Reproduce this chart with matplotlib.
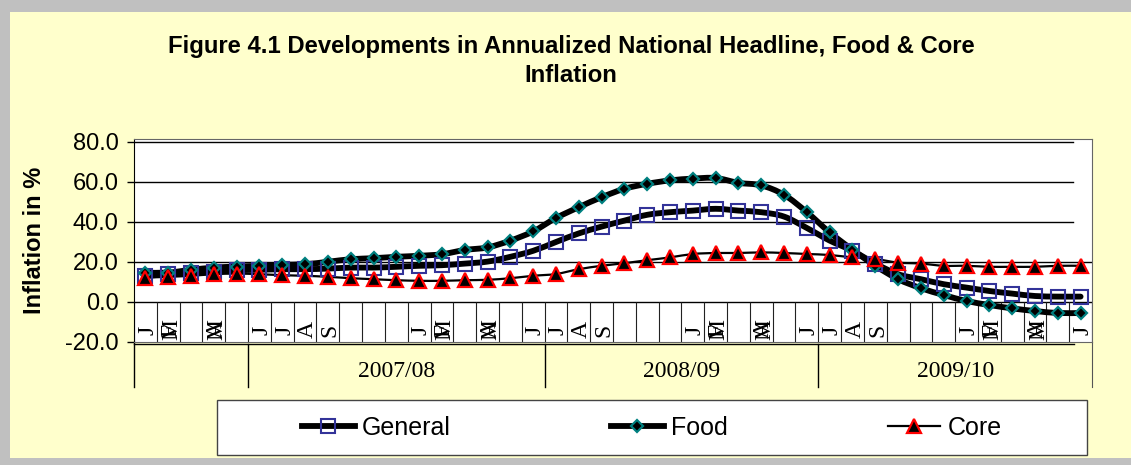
import matplotlib.pyplot as plt
import numpy as np
from matplotlib.path import Path
from matplotlib.patches import PathPatch, Rectangle
from matplotlib.lines import Line2D

# monthly categories, Jan 2007 - Jun 2010
months = ['J', 'F', 'M', 'A', 'M',
          'J', 'J', 'A', 'S', '', '', '', 'J', 'F', 'M', 'A', 'M', 'J',
          'J', 'A', 'S', '', '', '', 'J', 'F', 'M', 'A', 'M', 'J',
          'J', 'A', 'S', '', '', '', 'J', 'F', 'M', 'A', 'M', 'J']
years = ['2007/08', '2008/09', '2009/10']
year_bounds = [5, 18, 30, 42]

general = [13.1, 13.9, 14.7, 15.2, 15.9, 16.1, 16.4, 16.4, 16.7, 17.2,
           17.2, 17.6, 18.1, 18.4, 19.2, 20.2, 22.6, 25.6, 30.0, 34.3,
           37.7, 40.7, 43.6, 44.9, 45.7, 46.6, 45.7, 44.9, 42.7, 37.0,
           30.7, 25.6, 19.2, 13.9, 11.4, 8.9, 7.2, 5.5, 4.2, 3.0, 2.7, 2.7]
food = [14.7, 14.7, 16.1, 17.2, 17.7, 18.1, 18.6, 18.9, 20.1, 21.4,
        21.9, 22.6, 23.1, 23.9, 26.0, 27.3, 30.7, 35.3, 42.0, 47.4,
        52.4, 56.6, 59.1, 60.8, 61.7, 62.0, 59.6, 58.3, 53.6, 44.9,
        34.8, 26.1, 18.1, 11.4, 6.9, 3.5, 0.5, -1.5, -3.2, -4.5, -5.5, -5.5]
core = [12.2, 12.6, 13.1, 13.9, 14.2, 13.9, 13.4, 13.1, 12.6, 11.9,
        11.4, 10.9, 10.6, 10.6, 10.9, 11.1, 11.9, 13.1, 14.0, 16.4,
        18.1, 19.4, 20.9, 22.3, 24.0, 24.5, 24.5, 24.8, 24.5, 24.0,
        23.5, 22.3, 21.5, 19.7, 19.2, 18.1, 18.1, 17.6, 17.6, 17.6, 18.1, 18.1]

BG = '#FFFFCC'
W, H = 1131, 465


def smooth_path(x, y):
    # excel style smoothed line: cubic bezier through every point
    p = np.column_stack([x, y])
    n = len(p)
    verts = [p[0]]
    codes = [Path.MOVETO]
    for i in range(n - 1):
        p0 = p[i - 1] if i > 0 else p[i]
        p3 = p[i + 2] if i + 2 < n else p[i + 1]
        c1 = p[i] + (p[i + 1] - p0) / 6.0
        c2 = p[i + 1] - (p3 - p[i]) / 6.0
        verts += [c1, c2, p[i + 1]]
        codes += [Path.CURVE4] * 3
    return Path(verts, codes)


fig = plt.figure(figsize=(W / 100, H / 100), dpi=100, facecolor='#C0C0C0')
fig.patches.append(Rectangle((10 / W, 7 / H), 1, 1 - 19 / H, transform=fig.transFigure,
                             facecolor=BG, edgecolor='none', zorder=-5))

ax = fig.add_axes([134 / W, 1 - 342 / H, (1092 - 134) / W, (342 - 139) / H])
ax.set_zorder(2)
ax.set_facecolor('white')
ax.set_xlim(0, 42)
ax.set_ylim(-20, 81.5)

x = np.arange(len(months)) + 0.5

# gridlines
for g in [80, 60, 40]:
    ax.axhline(g, xmax=0.98, color='black', lw=1.0, zorder=1)
for g in [20, 0]:
    ax.axhline(g, color='black', lw=1.0, zorder=1)

# category separators in the month band
ax.vlines(np.arange(0, 43), -20, 0, color='#222222', lw=0.8, zorder=1)

# series
series = [
    (general, 4.2, dict(marker='s', ms=10.5, mfc='none', mec='#333399', mew=1.5)),
    (food, 4.2, dict(marker='D', ms=6.5, mfc='black', mec='#008080', mew=1.6)),
    (core, 1.6, dict(marker='^', ms=9.5, mfc='black', mec='#FF0000', mew=1.6)),
]
handles = []
for vals, lw, mk in series:
    ax.add_patch(PathPatch(smooth_path(x, vals), fill=False, lw=lw, edgecolor='black',
                           capstyle='round', joinstyle='round', zorder=3))
    ax.plot(x, vals, linestyle='none', zorder=4, **mk)
    handles.append(Line2D([], [], color='black', lw=lw, **mk))

# month labels (rotated, the M labels sit on top of the previous slot)
for i, m in enumerate(months):
    if not m:
        continue
    xi = x[i] - 0.85 if m == 'M' else x[i] + 0.1
    ax.text(xi, -14, m, rotation=90, ha='center', va='center',
            family='Liberation Serif', fontsize=17, zorder=5)

# fiscal year band below the plot
ax.plot([0, 41.2], [-21.1, -21.1], color='black', lw=1.0, clip_on=False)
for b in year_bounds[:-1]:
    ax.plot([b, b], [-21.1, -42.5], color='black', lw=1.0, clip_on=False)
ax.plot([0, 0], [-20, -42.5], color='black', lw=1.0, clip_on=False)
ax.plot([42, 42], [-20, -42.5], color='#555555', lw=0.8, clip_on=False)
for k, yr in enumerate(years):
    ax.text((year_bounds[k] + year_bounds[k + 1]) / 2, -34.5, yr, ha='center', va='center',
            family='Liberation Serif', fontsize=17, clip_on=False)

# axes styling
ax.set_xticks([])
ax.set_yticks([-20, 0, 20, 40, 60, 80])
ax.set_yticklabels(['%.1f' % v for v in [-20, 0, 20, 40, 60, 80]],
                   family='Liberation Sans', fontsize=17)
ax.tick_params(axis='y', direction='out', length=5, width=1, pad=6)
for side in ['top', 'right', 'bottom']:
    ax.spines[side].set_color('#666666')
    ax.spines[side].set_linewidth(0.8)
ax.spines['left'].set_color('black')
ax.set_ylabel('Inflation in %', family='Liberation Sans', fontweight='bold', fontsize=17)
ax.yaxis.label.set_va('center')
ax.yaxis.set_label_coords(35 / W, 1 - 240 / H, transform=fig.transFigure)

fig.text(571 / W, 1 - 46 / H, 'Figure 4.1 Developments in Annualized National Headline, Food & Core',
         ha='center', va='center', family='Liberation Sans', fontweight='bold', fontsize=17.2)
fig.text(571 / W, 1 - 76 / H, 'Inflation', ha='center', va='center',
         family='Liberation Sans', fontweight='bold', fontsize=17.2)

# legend
fig.patches.append(Rectangle((217 / W, 1 - 455 / H), 870 / W, 55 / H, transform=fig.transFigure,
                             facecolor='white', edgecolor='#444444', lw=1.0, zorder=1))
fig.legend(handles, ['General', 'Food', 'Core'], loc='center', ncol=3,
           bbox_to_anchor=(652 / W, 1 - 427.5 / H), frameon=False,
           prop={'family': 'Liberation Sans', 'size': 18},
           handlelength=2.1, handletextpad=0.3, columnspacing=6.4)

fig.savefig('out.png', dpi=100, facecolor=fig.get_facecolor())
